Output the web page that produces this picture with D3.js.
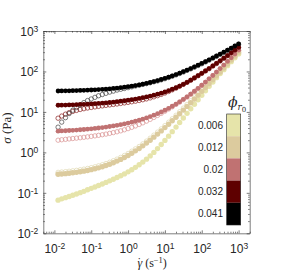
<!DOCTYPE html>
<html lang="en">
<head>
<meta charset="UTF-8"/>
<title>flow curves</title>
<script src="https://d3js.org/d3.v7.min.js"></script>
<style>
  body { margin: 0; background: #fff; }
  svg { display: block; }
  .axis path, .axis line { stroke: #262626; stroke-width: 0.6; }
  .axis text { font-family: "Liberation Sans", Arial, sans-serif; font-size: 12px; fill: #262626; }
</style>
</head>
<body>
<svg width="288" height="270"></svg>
<script>
// shear rate (1/s)
const shearRate = [0.0126, 0.0158, 0.0200, 0.0251, 0.0316, 0.0398, 0.0501, 0.0631, 0.0794, 0.100,
  0.126, 0.158, 0.200, 0.251, 0.316, 0.398, 0.501, 0.631, 0.794, 1.00,
  1.26, 1.58, 2.00, 2.51, 3.16, 3.98, 5.01, 6.31, 7.94, 10.0,
  12.6, 15.8, 20.0, 25.1, 31.6, 39.8, 50.1, 63.1, 79.4, 100,
  126, 158, 200, 251, 316, 398, 501, 631, 794, 1000];

// stress (Pa), filled markers
const sigma006 = [0.066, 0.071, 0.076, 0.081, 0.087, 0.094, 0.101, 0.109, 0.119, 0.129,
  0.140, 0.152, 0.166, 0.181, 0.198, 0.217, 0.239, 0.264, 0.294, 0.330,
  0.373, 0.427, 0.493, 0.575, 0.681, 0.818, 1.00, 1.24, 1.56, 1.98,
  2.52, 3.25, 4.21, 5.46, 7.10, 9.23, 12.0, 15.5, 20.0, 25.9,
  33.3, 42.9, 55.0, 70.3, 88.5, 111, 139, 175, 218, 272];
const sigma012 = [0.287, 0.292, 0.298, 0.305, 0.313, 0.321, 0.332, 0.344, 0.358, 0.374,
  0.393, 0.415, 0.442, 0.473, 0.510, 0.555, 0.608, 0.671, 0.748, 0.840,
  0.952, 1.09, 1.25, 1.45, 1.70, 2.00, 2.38, 2.83, 3.40, 4.10,
  4.97, 6.04, 7.38, 9.04, 11.1, 13.7, 16.9, 20.9, 26.0, 32.3,
  40.1, 50.0, 62.3, 77.9, 97.3, 122, 152, 191, 239, 300];
const sigma020 = [3.35, 3.39, 3.42, 3.47, 3.51, 3.56, 3.62, 3.68, 3.75, 3.83,
  3.91, 4.00, 4.11, 4.23, 4.36, 4.50, 4.67, 4.85, 5.06, 5.30,
  5.57, 5.88, 6.24, 6.64, 7.12, 7.67, 8.31, 9.07, 9.96, 11.0,
  12.3, 13.8, 15.6, 17.8, 20.5, 23.6, 27.6, 32.4, 38.3, 45.6,
  54.6, 65.7, 79.5, 96.6, 118, 144, 177, 218, 270, 335];
const sigma032 = [14.6, 14.7, 14.8, 14.9, 15.0, 15.1, 15.3, 15.4, 15.6, 15.8,
  16.0, 16.2, 16.5, 16.8, 17.1, 17.5, 17.9, 18.4, 18.9, 19.5,
  20.1, 20.8, 21.6, 22.5, 23.5, 24.6, 25.9, 27.4, 29.1, 31.1,
  33.5, 36.3, 39.6, 43.5, 48.2, 54.0, 61.0, 69.1, 78.6, 89.9,
  103, 118, 137, 158, 183, 213, 247, 288, 336, 392];
const sigma041 = [32.9, 33.0, 33.2, 33.3, 33.5, 33.7, 33.9, 34.2, 34.5, 34.8,
  35.2, 35.6, 36.1, 36.7, 37.3, 38.0, 38.8, 39.8, 40.8, 42.0,
  43.4, 44.9, 46.6, 48.6, 50.8, 53.4, 56.3, 59.5, 63.3, 67.5,
  72.3, 77.7, 83.9, 90.9, 98.8, 108, 118, 130, 143, 158,
  175, 194, 216, 241, 269, 301, 338, 379, 426, 479];

// stress (Pa), open markers
const sigma012Open = [0.321, 0.327, 0.334, 0.342, 0.351, 0.360, 0.372, 0.385, 0.401, 0.419,
  0.440, 0.465, 0.495, 0.530, 0.571, 0.622, 0.681, 0.752, 0.838, 0.941,
  1.07, 1.22, 1.40, 1.62, 1.90, 2.24, 2.67, 3.17, 3.81, 4.59,
  5.57, 6.76, 8.27, 10.1, 12.4, 15.3, 18.9, 23.4, 29.1, 36.2,
  44.9, 56.0, 69.8, 87.2, 109, 137, 170, 214, 268, 336];
const sigma020Open = [2.0, 2.05, 2.1, 2.15, 2.2, 2.25, 2.3, 2.36, 2.42, 2.49,
  2.56, 2.64, 2.73, 2.83, 2.95, 3.08, 3.23, 3.41, 3.62, 3.87,
  4.16, 4.50, 4.90, 5.37, 5.92, 6.55, 7.3, 8.2, 9.2, 10.4,
  11.8, 13.4, 15.3, 17.5, 20.2, 23.3, 27.2, 32.0, 37.8, 45.0,
  54.0, 65.0, 78.6, 95.6, 117, 142, 175, 216, 267, 331];
const sigma032Open = [7.0, 7.9, 8.8, 9.6, 10.3, 10.9, 11.5, 12.0, 12.5, 12.9,
  13.3, 13.7, 14.1, 14.5, 14.9, 15.3, 15.7, 16.2, 16.7, 17.2,
  17.8, 18.4, 19.2, 20.0, 21.0, 22.2, 23.6, 25.2, 27.1, 29.3,
  32.0, 35.1, 38.7, 43.0, 48.0, 53.7, 60.7, 68.8, 78.2, 89.5,
  103, 117, 136, 157, 182, 212, 246, 287, 334, 390];
const sigma041Open = [4.2, 5.6, 7.2, 9.1, 11.0, 12.9, 14.8, 17.0, 19.1, 20.9,
  22.9, 25.1, 26.9, 28.8, 30.9, 32.7, 34.7, 36.3, 38.0, 39.8,
  41.7, 43.7, 45.7, 47.9, 50.1, 52.5, 55.6, 58.3, 62.0, 66.2,
  70.9, 76.1, 82.2, 89.1, 96.8, 106, 116, 127, 140, 155,
  172, 190, 212, 236, 264, 295, 331, 371, 417, 469];

const phiLabels = ["0.006", "0.012", "0.02", "0.032", "0.041"];
const phiColors = ["#e6e4aa", "#dccb9e", "#c07272", "#5e0000", "#000000"];
const openColors = ["#e0d8b0", "#d99090", "#8a2020", "#444444"];

const xTicks = [1e-2, 1e-1, 1e0, 1e1, 1e2, 1e3];
const yTicks = [1e-2, 1e-1, 1e0, 1e1, 1e2, 1e3];

const svg = d3.select("svg");
const axLeft = 43.3, axRight = 249.7, axTop = 31, axBottom = 233.3;

const x = d3.scaleLog().domain([0.005, 2000]).range([axLeft, axRight]);
const y = d3.scaleLog().domain([0.01, 1000]).range([axBottom, axTop]);

// minor ticks
function minors(scale) {
  const [a, b] = scale.domain();
  const out = [];
  for (let e = Math.floor(Math.log10(a)); e <= Math.ceil(Math.log10(b)); e++) {
    for (let m = 2; m < 10; m++) {
      const v = m * Math.pow(10, e);
      if (v >= a && v <= b) out.push(v);
    }
  }
  return out;
}

function power(sel) {
  sel.each(function (d) {
    const t = d3.select(this);
    t.text(null);
    t.append("tspan").text("10");
    t.append("tspan").attr("dy", "-0.45em").attr("font-size", "8.5px")
      .text(Math.round(Math.log10(d)));
  });
}

// bottom
const gx = svg.append("g").attr("class", "axis").attr("transform", `translate(0,${axBottom})`);
gx.call(d3.axisBottom(x).tickValues(xTicks).tickSize(-3).tickPadding(0).tickSizeOuter(0));
gx.selectAll(".tick text").attr("dy", null).attr("y", 20).call(power);
svg.append("g").attr("class", "axis").attr("transform", `translate(0,${axBottom})`)
  .call(d3.axisBottom(x).tickValues(minors(x)).tickSize(-1.6).tickFormat("").tickSizeOuter(0))
  .select(".domain").remove();

// top
svg.append("g").attr("class", "axis").attr("transform", `translate(0,${axTop})`)
  .call(d3.axisTop(x).tickValues(xTicks).tickSize(-3).tickFormat("").tickSizeOuter(0));
svg.append("g").attr("class", "axis").attr("transform", `translate(0,${axTop})`)
  .call(d3.axisTop(x).tickValues(minors(x)).tickSize(-1.6).tickFormat("").tickSizeOuter(0))
  .select(".domain").remove();

// left
const gy = svg.append("g").attr("class", "axis").attr("transform", `translate(${axLeft},0)`);
gy.call(d3.axisLeft(y).tickValues(yTicks).tickSize(-3).tickPadding(5).tickSizeOuter(0));
gy.selectAll(".tick text").attr("dy", "0.36em").call(power);
svg.append("g").attr("class", "axis").attr("transform", `translate(${axLeft},0)`)
  .call(d3.axisLeft(y).tickValues(minors(y)).tickSize(-1.6).tickFormat("").tickSizeOuter(0))
  .select(".domain").remove();

// right
svg.append("g").attr("class", "axis").attr("transform", `translate(${axRight},0)`)
  .call(d3.axisRight(y).tickValues(yTicks).tickSize(-3).tickFormat("").tickSizeOuter(0));
svg.append("g").attr("class", "axis").attr("transform", `translate(${axRight},0)`)
  .call(d3.axisRight(y).tickValues(minors(y)).tickSize(-1.6).tickFormat("").tickSizeOuter(0))
  .select(".domain").remove();

// data
const openSeries = [sigma012Open, sigma020Open, sigma032Open, sigma041Open];
const filledSeries = [sigma006, sigma012, sigma020, sigma032, sigma041];

const plot = svg.append("g");

openSeries.forEach((s, i) => {
  plot.append("g").selectAll("circle")
    .data(s.map((v, j) => [shearRate[j], v]))
    .join("circle")
    .attr("cx", d => x(d[0]))
    .attr("cy", d => y(d[1]))
    .attr("r", 2.2)
    .attr("fill", "none")
    .attr("stroke", openColors[i])
    .attr("stroke-width", 0.7);
});

filledSeries.forEach((s, i) => {
  plot.append("g").selectAll("circle")
    .data(s.map((v, j) => [shearRate[j], v]))
    .join("circle")
    .attr("cx", d => x(d[0]))
    .attr("cy", d => y(d[1]))
    .attr("r", i < 2 ? 2.7 : 2.4)
    .attr("fill", phiColors[i]);
});

// colour bar
const cbX = 226.7, cbW = 14;
const cb = d3.scaleBand().domain(phiLabels).range([114, 225]);
const bar = svg.append("g");
bar.selectAll("rect")
  .data(phiLabels)
  .join("rect")
  .attr("x", cbX)
  .attr("y", d => cb(d))
  .attr("width", cbW)
  .attr("height", cb.bandwidth())
  .attr("fill", (d, i) => phiColors[i]);
bar.append("rect")
  .attr("x", cbX).attr("y", 114).attr("width", cbW).attr("height", 111)
  .attr("fill", "none").attr("stroke", "#262626").attr("stroke-width", 0.6);
bar.selectAll("text")
  .data(phiLabels)
  .join("text")
  .attr("x", 223)
  .attr("y", d => cb(d) + cb.bandwidth() / 2)
  .attr("dy", "0.35em")
  .attr("text-anchor", "end")
  .attr("font-family", "Liberation Sans, Arial, sans-serif")
  .attr("font-size", "10px")
  .attr("fill", "#262626")
  .text(d => d);

const phiT = svg.append("text")
  .attr("x", 228).attr("y", 107)
  .attr("font-family", "DejaVu Serif, serif")
  .attr("fill", "#262626");
phiT.append("tspan").attr("font-size", "14px").attr("font-style", "italic").text("\u03D5");
phiT.append("tspan").attr("font-size", "9px").attr("font-style", "italic").attr("dy", "3").text("r");
phiT.append("tspan").attr("font-size", "7px").attr("dy", "2").text("0");

// axis labels
const yl = svg.append("text")
  .attr("transform", "translate(11,128) rotate(-90)")
  .attr("text-anchor", "middle")
  .attr("font-family", "Liberation Serif, serif")
  .attr("font-size", "13px")
  .attr("fill", "#262626");
yl.append("tspan").attr("font-style", "italic").text("\u03C3");
yl.append("tspan").text(" (Pa)");

const xl = svg.append("text")
  .attr("x", 152).attr("y", 267)
  .attr("text-anchor", "middle")
  .attr("font-family", "Liberation Serif, serif")
  .attr("font-size", "12px")
  .attr("fill", "#262626");
xl.append("tspan").attr("font-style", "italic").text("\u03B3");
xl.append("tspan").attr("dx", "-5").attr("dy", "-1").text("\u02D9");
xl.append("tspan").attr("dx", "1").attr("dy", "1").text(" (s");
xl.append("tspan").attr("font-size", "8.5px").attr("dy", "-4").text("\u22121");
xl.append("tspan").attr("dy", "4").text(")");
</script>
</body>
</html>
